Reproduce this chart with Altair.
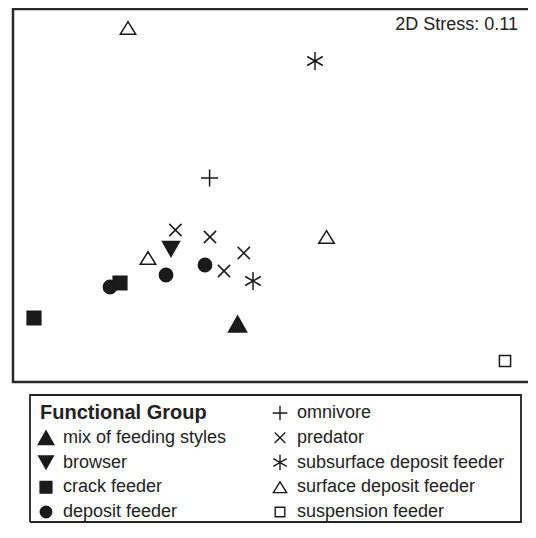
import altair as alt
import pandas as pd

FONT = "Liberation Sans, Arial, Helvetica, sans-serif"
INK = "#1a1a1a"

# Functional groups (legend order) with their marker style
groups = [
    "mix of feeding styles", "browser", "crack feeder", "deposit feeder",
    "omnivore", "predator", "subsurface deposit feeder",
    "surface deposit feeder", "suspension feeder",
]
shapes = [
    "M-1,0.89L1,0.89L0,-0.89Z",                       # filled triangle up
    "M-0.94,-0.83L0.94,-0.83L0,0.83Z",                 # filled triangle down
    "M-0.76,-0.76H0.76V0.76H-0.76Z",                   # filled square
    "M0.74,0A0.74,0.74,0,1,1,-0.74,0A0.74,0.74,0,1,1,0.74,0Z",  # filled circle
    "M-0.95,0H0.95M0,-0.95V0.95",                      # plus
    "M-0.68,-0.68L0.68,0.68M-0.68,0.68L0.68,-0.68",    # x
    "M0,-1V1M-0.87,-0.5L0.87,0.5M-0.87,0.5L0.87,-0.5", # asterisk
    "M-0.86,0.7L0.86,0.7L0,-0.7Z",                     # open triangle
    "M-0.62,-0.62H0.62V0.62H-0.62Z",                   # open square
]
fills = [INK, INK, INK, INK, "transparent", "transparent", "transparent", "white", "white"]

# NMDS ordination points
point_group = [
    "surface deposit feeder", "surface deposit feeder", "surface deposit feeder",
    "subsurface deposit feeder", "subsurface deposit feeder",
    "omnivore",
    "predator", "predator", "predator", "predator",
    "browser",
    "deposit feeder", "deposit feeder", "deposit feeder",
    "crack feeder", "crack feeder",
    "mix of feeding styles",
    "suspension feeder",
]
point_x = [-1.45, 0.535, -1.25, 0.42, -0.20, -0.634, -0.976, -0.63, -0.292, -0.49,
           -1.02, -1.07, -0.68, -1.63, -1.53, -2.39, -0.354, 2.32]
point_y = [1.67, -0.42, -0.63, 1.34, -0.86, 0.17, -0.35, -0.42, -0.58, -0.76,
           -0.54, -0.80, -0.70, -0.92, -0.88, -1.23, -1.29, -1.66]

stress_label = ["2D Stress: 0.11"]
stress_x = [2.45]
stress_y = [1.70]

# legend layout (column, row)
legend_title = ["Functional Group"]
legend_col = [0, 0, 0, 0, 1, 1, 1, 1, 1]
legend_row = [1, 2, 3, 4, 0, 1, 2, 3, 4]

# outline paths (unit box corners, drawn in order)
panel_fx = [1, 0, 0, 1]
panel_fy = [1, 1, 0, 0]
box_fx = [0, 1, 1, 0, 0]
box_fy = [0, 0, 1, 1, 0]

pts_df = pd.DataFrame({"group": point_group, "x": point_x, "y": point_y})
stress_df = pd.DataFrame({"label": stress_label, "x": stress_x, "y": stress_y})
leg_df = pd.DataFrame({"lgroup": groups, "col": legend_col, "row": legend_row})
title_df = pd.DataFrame({"label": legend_title, "col": [0], "row": [0]})
panel_df = pd.DataFrame({"fx": panel_fx, "fy": panel_fy, "k": range(len(panel_fx))})
box_df = pd.DataFrame({"bx": box_fx, "by": box_fy, "k": range(len(box_fx))})

W, H = 515, 512          # whole drawing area
PH = 373                 # ordination panel height

shape_scale = alt.Scale(domain=groups, range=shapes)
fill_scale = alt.Scale(domain=groups, range=fills)
xs = alt.Scale(domain=[-2.6, 2.55], range=[0, W], nice=False, zero=False)
ys = alt.Scale(domain=[-1.87, 1.86], range=[PH, 0], nice=False, zero=False)
lx = alt.Scale(domain=[0, 1], range=[33, 267], nice=False, zero=False)
ly = alt.Scale(domain=[0, 4], range=[404, 503], nice=False, zero=False)

panel = alt.Chart(panel_df).mark_line(
    color="#2a2a2a", strokeWidth=2.5, strokeJoin="miter", strokeCap="butt"
).encode(
    x=alt.X("fx:Q", scale=alt.Scale(domain=[0, 1], range=[0, W]), axis=None),
    y=alt.Y("fy:Q", scale=alt.Scale(domain=[0, 1], range=[PH, 0]), axis=None),
    order="k:Q",
)
box = alt.Chart(box_df).mark_line(
    color="#222", strokeWidth=1.8, strokeJoin="miter"
).encode(
    x=alt.X("bx:Q", scale=alt.Scale(domain=[0, 1], range=[17, 508]), axis=None),
    y=alt.Y("by:Q", scale=alt.Scale(domain=[0, 1], range=[513, 386]), axis=None),
    order="k:Q",
)

pts = alt.Chart(pts_df).mark_point(size=324, stroke=INK, strokeWidth=1.5, opacity=1).encode(
    x=alt.X("x:Q", scale=xs, axis=None),
    y=alt.Y("y:Q", scale=ys, axis=None),
    shape=alt.Shape("group:N", scale=shape_scale, legend=None),
    fill=alt.Fill("group:N", scale=fill_scale, legend=None),
)
stress = alt.Chart(stress_df).mark_text(
    align="right", baseline="middle", fontSize=18, font=FONT, color="#222"
).encode(
    x=alt.X("x:Q", scale=xs, axis=None),
    y=alt.Y("y:Q", scale=ys, axis=None),
    text="label:N",
)

lsym = alt.Chart(leg_df).mark_point(size=240, stroke=INK, strokeWidth=1.4, opacity=1).encode(
    x=alt.X("col:Q", scale=lx, axis=None),
    y=alt.Y("row:Q", scale=ly, axis=None),
    shape=alt.Shape("lgroup:N", scale=shape_scale, legend=None),
    fill=alt.Fill("lgroup:N", scale=fill_scale, legend=None),
)
ltxt = alt.Chart(leg_df).mark_text(
    align="left", baseline="middle", dx=17, fontSize=18, font=FONT, color="#222"
).encode(
    x=alt.X("col:Q", scale=lx, axis=None),
    y=alt.Y("row:Q", scale=ly, axis=None),
    text="lgroup:N",
)
ltitle = alt.Chart(title_df).mark_text(
    align="left", baseline="middle", dx=-6, fontSize=20, fontWeight="bold", font=FONT, color="#222"
).encode(
    x=alt.X("col:Q", scale=lx, axis=None),
    y=alt.Y("row:Q", scale=ly, axis=None),
    text="label:N",
)

chart = alt.layer(panel, box, pts, stress, lsym, ltxt, ltitle).resolve_scale(
    x="independent", y="independent", shape="independent", fill="independent"
).properties(
    width=W, height=H,
    autosize=alt.AutoSizeParams(type="none"),
    padding={"left": 5, "top": 1, "right": 0, "bottom": 2},
).configure_view(strokeWidth=0)

chart.save("out.html", embed_options={"renderer": "svg", "actions": False})
